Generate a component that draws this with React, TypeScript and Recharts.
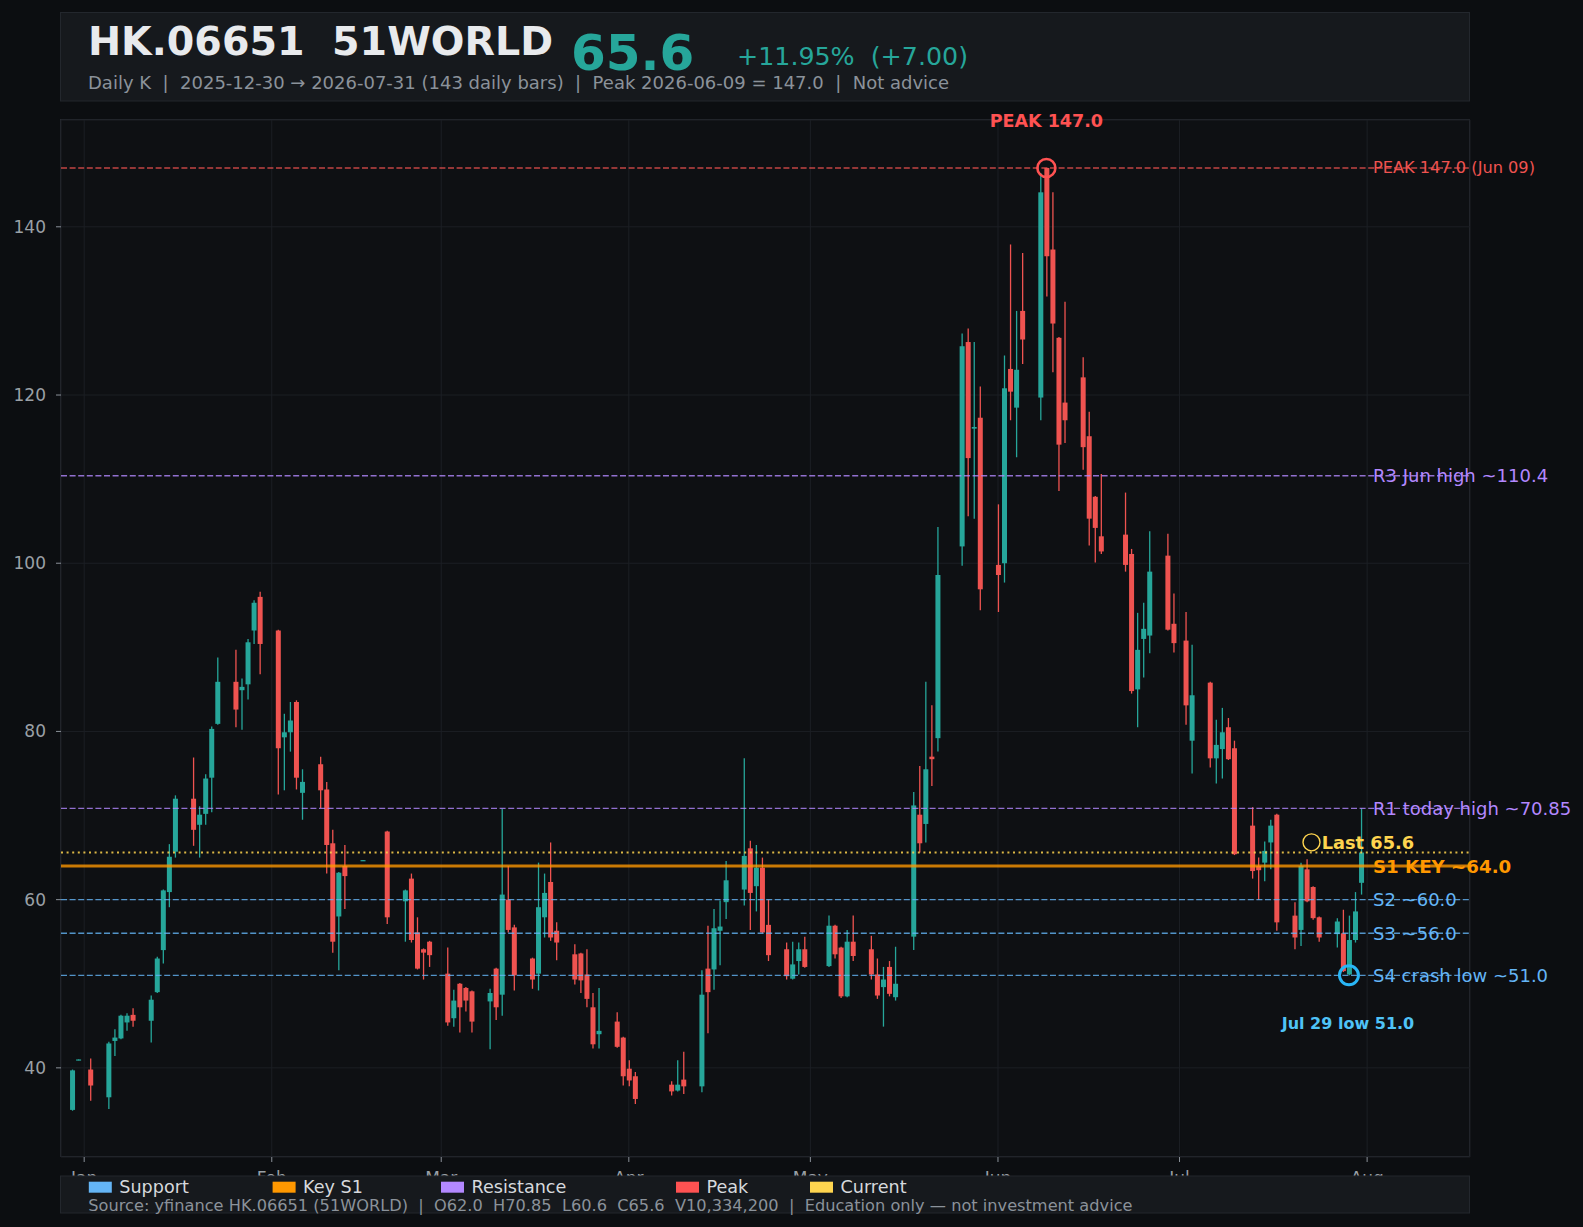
import React from 'react';
import {
  ComposedChart,
  Bar,
  XAxis,
  YAxis,
  CartesianGrid,
  ReferenceLine,
  ReferenceDot,
} from 'recharts';

// ---------- data ----------
const DATES = [
  '2025-12-30', '2025-12-31',
  '2026-01-02', '2026-01-05', '2026-01-06', '2026-01-07', '2026-01-08', '2026-01-09',
  '2026-01-12', '2026-01-13', '2026-01-14', '2026-01-15', '2026-01-16',
  '2026-01-19', '2026-01-20', '2026-01-21', '2026-01-22', '2026-01-23',
  '2026-01-26', '2026-01-27', '2026-01-28', '2026-01-29', '2026-01-30',
  '2026-02-02', '2026-02-03', '2026-02-04', '2026-02-05', '2026-02-06',
  '2026-02-09', '2026-02-10', '2026-02-11', '2026-02-12', '2026-02-13',
  '2026-02-16', '2026-02-20',
  '2026-02-23', '2026-02-24', '2026-02-25', '2026-02-26', '2026-02-27',
  '2026-03-02', '2026-03-03', '2026-03-04', '2026-03-05', '2026-03-06',
  '2026-03-09', '2026-03-10', '2026-03-11', '2026-03-12', '2026-03-13',
  '2026-03-16', '2026-03-17', '2026-03-18', '2026-03-19', '2026-03-20',
  '2026-03-23', '2026-03-24', '2026-03-25', '2026-03-26', '2026-03-27',
  '2026-03-30', '2026-03-31',
  '2026-04-01', '2026-04-02', '2026-04-08', '2026-04-09', '2026-04-10',
  '2026-04-13', '2026-04-14', '2026-04-15', '2026-04-16', '2026-04-17',
  '2026-04-20', '2026-04-21', '2026-04-22', '2026-04-23', '2026-04-24',
  '2026-04-27', '2026-04-28', '2026-04-29', '2026-04-30',
  '2026-05-04', '2026-05-05', '2026-05-06', '2026-05-07', '2026-05-08',
  '2026-05-11', '2026-05-12', '2026-05-13', '2026-05-14', '2026-05-15',
  '2026-05-18', '2026-05-19', '2026-05-20', '2026-05-21', '2026-05-22',
  '2026-05-26', '2026-05-27', '2026-05-28', '2026-05-29',
  '2026-06-01', '2026-06-02', '2026-06-03', '2026-06-04', '2026-06-05',
  '2026-06-08', '2026-06-09', '2026-06-10', '2026-06-11', '2026-06-12',
  '2026-06-15', '2026-06-16', '2026-06-17', '2026-06-18',
  '2026-06-22', '2026-06-23', '2026-06-24', '2026-06-25', '2026-06-26',
  '2026-06-29', '2026-06-30',
  '2026-07-02', '2026-07-03',
  '2026-07-06', '2026-07-07', '2026-07-08', '2026-07-09', '2026-07-10',
  '2026-07-13', '2026-07-14', '2026-07-15', '2026-07-16', '2026-07-17',
  '2026-07-20', '2026-07-21', '2026-07-22', '2026-07-23', '2026-07-24',
  '2026-07-27', '2026-07-28', '2026-07-29', '2026-07-30', '2026-07-31',
];

const OPEN = [
  35.0, 40.9,
  39.8, 36.5, 43.2, 43.5, 45.4, 46.3,
  45.6, 49.0, 54.0, 60.9, 65.7,
  72.0, 68.9, 70.2, 74.5, 80.9,
  85.9, 84.9, 85.6, 92.0, 96.0,
  92.0, 79.3, 79.9, 83.5, 72.7,
  76.1, 73.1, 66.7, 58.0, 64.0,
  64.6, 68.1,
  59.8, 62.5, 56.1, 54.1, 55.0,
  51.2, 45.9, 50.0, 49.5, 49.1,
  47.9, 51.8, 48.7, 60.0, 56.7,
  53.0, 51.2, 57.9, 62.1, 56.3,
  53.5, 53.6, 51.1, 47.2, 44.0,
  45.5, 43.6,
  39.9, 39.0, 38.0, 37.3, 38.6,
  37.8, 51.8, 51.7, 56.3, 59.7,
  61.2, 66.1, 61.6, 63.8, 57.0,
  54.1, 50.6, 52.7, 54.1,
  52.1, 56.9, 54.3, 48.5, 55.0,
  54.1, 51.1, 49.6, 52.0, 48.4,
  55.6, 70.1, 69.0, 77.0, 79.2,
  102.0, 126.3, 116.0, 117.3,
  99.8, 100.0, 123.1, 118.5, 130.0,
  119.7, 147.0, 137.3, 126.8, 119.1,
  122.1, 115.1, 107.9, 103.2,
  103.4, 101.1, 85.0, 91.0, 91.4,
  100.9, 92.8,
  90.8, 78.9,
  85.8, 76.8, 77.9, 80.5, 78.0,
  68.8, 64.0, 64.4, 66.8, 70.1,
  58.1, 56.4, 63.6, 61.5, 57.9,
  55.9, 56.0, 51.1, 55.2, 62.0,
];

const HIGH = [
  39.8, 41.0,
  41.1, 43.1, 44.6, 46.3, 46.5, 47.1,
  48.6, 53.2, 61.2, 66.6, 72.4,
  76.9, 71.1, 74.9, 80.6, 88.8,
  89.7, 86.3, 91.0, 95.6, 96.6,
  92.1, 82.1, 83.5, 83.7, 75.5,
  77.0, 74.0, 68.3, 63.3, 66.5,
  64.7, 68.2,
  61.2, 63.1, 57.9, 54.2, 55.1,
  54.3, 49.3, 50.1, 49.6, 49.2,
  49.4, 51.9, 70.8, 64.0, 57.0,
  53.1, 64.4, 63.1, 66.8, 57.3,
  54.7, 53.7, 54.1, 48.9, 49.5,
  46.6, 43.7,
  40.9, 39.5, 38.4, 40.9, 41.9,
  51.6, 56.9, 58.9, 59.9, 64.6,
  76.8, 67.0, 66.5, 65.0, 60.0,
  54.9, 55.0, 54.9, 55.6,
  58.1, 57.0, 54.4, 56.4, 58.1,
  55.7, 53.0, 52.0, 52.7, 54.4,
  72.8, 75.9, 85.9, 83.1, 104.3,
  127.3, 127.9, 126.3, 121.0,
  107.0, 124.7, 137.9, 130.0, 136.9,
  146.4, 147.0, 144.1, 126.9, 131.1,
  124.5, 118.0, 108.0, 110.6,
  108.4, 101.7, 94.1, 95.3, 103.8,
  103.5, 96.4,
  94.2, 90.3,
  85.9, 81.4, 82.8, 81.6, 78.9,
  71.0, 65.0, 66.9, 69.5, 70.2,
  59.7, 64.4, 64.8, 61.6, 58.0,
  57.8, 58.8, 58.1, 60.9, 70.85,
];

const LOW = [
  34.9, 40.9,
  36.1, 35.1, 41.4, 43.4, 44.4, 44.9,
  43.0, 48.9, 52.4, 59.1, 65.0,
  66.4, 65.0, 68.9, 70.4, 80.8,
  80.5, 80.2, 83.8, 90.4, 86.8,
  72.5, 73.0, 77.6, 73.1, 69.5,
  70.9, 63.1, 53.7, 51.6, 58.9,
  64.6, 57.1,
  55.0, 54.9, 51.7, 50.5, 52.0,
  45.0, 44.9, 44.2, 46.7, 44.2,
  42.2, 45.7, 46.2, 56.1, 49.2,
  49.4, 49.2, 55.5, 55.1, 52.8,
  49.9, 48.9, 47.2, 42.3, 42.3,
  42.4, 37.9,
  37.8, 35.7, 36.7, 37.2, 36.9,
  37.1, 44.1, 49.3, 52.2, 57.7,
  59.3, 56.4, 58.6, 56.0, 52.7,
  50.5, 50.5, 51.1, 51.9,
  52.0, 53.0, 48.3, 48.4, 52.7,
  50.5, 48.2, 44.9, 48.5, 48.0,
  54.0, 65.6, 66.8, 73.5, 77.6,
  99.7, 105.6, 105.3, 94.4,
  94.2, 97.7, 117.0, 112.6, 123.7,
  117.0, 131.7, 122.7, 108.6, 114.3,
  111.1, 102.1, 100.1, 101.1,
  99.0, 84.5, 80.5, 86.4, 89.3,
  92.0, 89.4,
  80.8, 75.0,
  75.7, 73.8, 74.4, 76.6, 65.3,
  62.5, 60.0, 62.2, 63.6, 56.3,
  54.1, 54.5, 59.7, 57.6, 55.0,
  54.3, 51.4, 51.0, 54.9, 60.6,
];

const CLOSE = [
  39.7, 41.0,
  37.9, 42.9, 43.6, 46.2, 46.2, 45.6,
  48.1, 53.0, 61.1, 65.1, 72.0,
  68.3, 70.1, 74.4, 80.3, 85.9,
  82.6, 85.3, 90.6, 95.3, 90.4,
  78.0, 79.9, 81.3, 74.5, 74.0,
  73.0, 66.5, 55.0, 63.2, 62.8,
  64.7, 57.9,
  61.1, 55.2, 51.8, 53.7, 53.4,
  45.4, 48.0, 47.2, 48.0, 45.5,
  48.9, 47.2, 60.6, 56.4, 51.0,
  50.5, 59.1, 60.8, 55.5, 54.9,
  50.5, 50.4, 48.2, 42.8, 44.4,
  42.5, 39.0,
  38.5, 36.3, 37.2, 38.0, 37.8,
  48.7, 49.0, 56.6, 56.8, 62.3,
  65.2, 60.8, 63.8, 56.1, 53.4,
  50.9, 52.3, 54.1, 52.0,
  56.9, 53.5, 48.5, 55.0, 53.3,
  51.1, 48.6, 50.5, 48.8, 50.0,
  71.2, 66.7, 75.5, 76.7, 98.6,
  125.8, 112.5, 116.2, 96.9,
  98.6, 120.8, 120.4, 123.0, 126.6,
  144.1, 136.5, 128.5, 114.1, 117.0,
  113.8, 105.3, 104.2, 101.4,
  99.8, 84.8, 89.7, 92.2, 99.0,
  92.1, 90.5,
  83.1, 84.3,
  76.8, 78.4, 79.9, 76.7, 65.4,
  63.4, 63.5, 65.8, 68.8, 57.3,
  55.5, 64.0, 59.8, 57.8, 55.5,
  57.4, 51.5, 55.2, 58.6, 65.6,
];

const MONTH_TICKS = [0, 31, 59, 90, 120, 151, 181, 212];
const MONTH_LABELS = ['Jan', 'Feb', 'Mar', 'Apr', 'May', 'Jun', 'Jul', 'Aug'];
const Y_TICKS = [40, 60, 80, 100, 120, 140];

const PEAK_DAY = '2026-06-09';
const PEAK_VALUE = 147.0;
const LOW_DAY = '2026-07-29';
const LOW_VALUE = 51.0;

const LEVELS = [
  { y: 147.0, text: 'PEAK 147.0 (Jun 09)', color: '#ef5350', dash: '6 2.6', width: 1.4, bold: false, size: 16.2 },
  { y: 110.4, text: 'R3 Jun high ~110.4', color: '#b388ff', dash: '6 2.6', width: 1.4, bold: false, size: 18 },
  { y: 70.85, text: 'R1 today high ~70.85', color: '#b388ff', dash: '6 2.6', width: 1.4, bold: false, size: 18 },
  { y: 64.0, text: 'S1 KEY ~64.0', color: '#ff9800', dash: undefined, width: 3, bold: true, size: 18.2 },
  { y: 60.0, text: 'S2 ~60.0', color: '#64b5f6', dash: '6 2.6', width: 1.4, bold: false, size: 18 },
  { y: 56.0, text: 'S3 ~56.0', color: '#64b5f6', dash: '6 2.6', width: 1.4, bold: false, size: 18 },
  { y: 51.0, text: 'S4 crash low ~51.0', color: '#64b5f6', dash: '6 2.6', width: 1.4, bold: false, size: 18 },
];
const LAST_PRICE = 65.6;

const LEGEND = [
  { label: 'Support', color: '#64b5f6', x: 88.8 },
  { label: 'Key S1', color: '#ff9800', x: 272.6 },
  { label: 'Resistance', color: '#b388ff', x: 441 },
  { label: 'Peak', color: '#ff5252', x: 676 },
  { label: 'Current', color: '#ffd54f', x: 810 },
];

// ---------- helpers ----------
const UP = '#26a69a';
const DOWN = '#ef5350';
const FONT = '"DejaVu Sans", Verdana, sans-serif';

const dayIndex = (s: string) =>
  (Date.UTC(+s.slice(0, 4), +s.slice(5, 7) - 1, +s.slice(8, 10)) - Date.UTC(2026, 0, 1)) / 86400000;

const data = DATES.map((d, i) => ({
  date: d,
  t: dayIndex(d),
  o: OPEN[i],
  h: HIGH[i],
  l: LOW[i],
  c: CLOSE[i],
  range: [LOW[i], HIGH[i]],
}));

function Candle(props: any) {
  const { x, y, width, height, payload } = props;
  if (!payload || x == null || y == null) return null;
  const { o, h, l, c } = payload;
  const top = Math.min(y, y + height);
  const hh = Math.abs(height);
  const cx = x + width / 2;
  const span = h - l;
  const py = (v: number) => (span > 0 ? top + ((h - v) / span) * hh : top);
  const color = c >= o ? UP : DOWN;
  const bt = py(Math.max(o, c));
  const bb = py(Math.min(o, c));
  const bh = Math.max(bb - bt, 1.2);
  return (
    <g>
      <line x1={cx} x2={cx} y1={top} y2={top + hh} stroke={color} strokeWidth={1.3} />
      <rect x={cx - 2.5} y={bt} width={5} height={bh} fill={color} />
    </g>
  );
}

const makeRightLabel = (lv: any) => (props: any) => {
  const vb = props.viewBox || {};
  return (
    <text
      x={vb.x + vb.width - 97}
      y={vb.y}
      dominantBaseline="central"
      fill={lv.color}
      fontSize={lv.size}
      fontWeight={lv.bold ? 'bold' : 'normal'}
      fontFamily={FONT}
    >
      {lv.text}
    </text>
  );
};

const lastLabel = (props: any) => {
  const vb = props.viewBox || {};
  const right = vb.x + vb.width;
  const yy = vb.y - 10.2;
  return (
    <g>
      <circle cx={right - 158.5} cy={yy} r={8.5} fill="none" stroke="#ffd54f" strokeWidth={1.4} />
      <text
        x={right - 148.3}
        y={yy}
        dominantBaseline="central"
        fill="#ffd54f"
        fontSize={17.8}
        fontWeight="bold"
        fontFamily={FONT}
      >
        {`Last ${LAST_PRICE.toFixed(1)}`}
      </text>
    </g>
  );
};

const peakLabel = (props: any) => {
  const vb = props.viewBox || {};
  const cx = vb.x + vb.width / 2;
  const cy = vb.y + vb.height / 2;
  return (
    <text x={cx} y={cy - 47} textAnchor="middle" dominantBaseline="central" fill="#ff5252" fontSize={17.5} fontWeight="bold" fontFamily={FONT}>
      {`PEAK ${PEAK_VALUE.toFixed(1)}`}
    </text>
  );
};

const lowLabel = (props: any) => {
  const vb = props.viewBox || {};
  const cx = vb.x + vb.width / 2;
  const cy = vb.y + vb.height / 2;
  return (
    <text x={cx - 1} y={cy + 48} textAnchor="middle" dominantBaseline="central" fill="#4fc3f7" fontSize={16} fontWeight="bold" fontFamily={FONT}>
      {`Jul 29 low ${LOW_VALUE.toFixed(1)}`}
    </text>
  );
};

const W = 1583;
const H = 1227;
const PLOT = { left: 61, top: 120, right: 1470, bottom: 1157 };

export default function App() {
  return (
    <div
      style={{
        position: 'absolute',
        left: 0,
        top: 0,
        width: W,
        height: H,
        background: '#0c0e11',
        overflow: 'hidden',
        fontFamily: FONT,
      }}
    >
      {/* plot area background + frame */}
      <div
        style={{
          position: 'absolute',
          left: PLOT.left - 1,
          top: PLOT.top - 1,
          width: PLOT.right - PLOT.left + 1,
          height: PLOT.bottom - PLOT.top + 1,
          background: '#0e1013',
          border: '1px solid #272a30',
          boxSizing: 'border-box',
        }}
      />
      <div style={{ position: 'absolute', left: 0, top: 0 }}>
        <ComposedChart
          width={W}
          height={H}
          data={data}
          margin={{ top: PLOT.top, right: W - PLOT.right, bottom: 0, left: 0 }}
        >
          <CartesianGrid stroke="#1c1f24" strokeWidth={1} />
          <XAxis
            type="number"
            dataKey="t"
            domain={[-3.83, 229]}
            allowDataOverflow
            ticks={MONTH_TICKS}
            tickFormatter={(v: number) => MONTH_LABELS[MONTH_TICKS.indexOf(v)] ?? ''}
            height={H - PLOT.bottom}
            tickSize={5}
            tickMargin={10}
            axisLine={false}
            tickLine={{ stroke: '#8b9199' }}
            tick={{ fill: '#9aa0a6', fontSize: 17, fontFamily: FONT }}
          />
          <YAxis
            type="number"
            domain={[29.4, 152.7]}
            allowDataOverflow
            ticks={Y_TICKS}
            width={PLOT.left}
            tickSize={5}
            tickMargin={10}
            axisLine={false}
            tickLine={{ stroke: '#8b9199' }}
            tick={{ fill: '#9aa0a6', fontSize: 17, fontFamily: FONT }}
          />
          <Bar dataKey="range" barSize={5} shape={(p: any) => <Candle {...p} />} isAnimationActive={false} />
          {LEVELS.map((lv) => (
            <ReferenceLine
              key={lv.text}
              y={lv.y}
              stroke={lv.color}
              strokeOpacity={lv.bold ? 0.78 : 0.8}
              strokeWidth={lv.width}
              strokeDasharray={lv.dash}
              label={makeRightLabel(lv)}
            />
          ))}
          <ReferenceLine
            y={LAST_PRICE}
            stroke="#ffd54f"
            strokeOpacity={0.85}
            strokeWidth={2}
            strokeDasharray="2 3.6"
            label={lastLabel}
          />
          <ReferenceDot
            x={dayIndex(PEAK_DAY)}
            y={PEAK_VALUE}
            r={9}
            fill="none"
            stroke="#ff5252"
            strokeWidth={2.6}
            label={peakLabel}
          />
          <ReferenceDot
            x={dayIndex(LOW_DAY)}
            y={LOW_VALUE}
            r={9.5}
            fill="none"
            stroke="#29b6f6"
            strokeWidth={3}
            label={lowLabel}
          />
        </ComposedChart>
      </div>

      {/* header and footer overlay */}
      <svg width={W} height={H} style={{ position: 'absolute', left: 0, top: 0, pointerEvents: 'none' }}>
        <rect x={60.5} y={12.5} width={1409} height={88.5} fill="#16191d" stroke="#23272d" strokeWidth={1} />
        <text x={88} y={55} fontSize={39.6} fontWeight="bold" fill="#e8eaed" fontFamily={FONT} style={{ whiteSpace: 'pre' }}>
          {'HK.06651  51WORLD'}
        </text>
        <text x={571} y={70} fontSize={50} fontWeight="bold" fill={UP} fontFamily={FONT}>
          65.6
        </text>
        <text x={737} y={65} fontSize={25.3} fill={UP} fontFamily={FONT} style={{ whiteSpace: 'pre' }}>
          {'+11.95%  (+7.00)'}
        </text>
        <text x={88} y={89} fontSize={18} fill="#8b929a" fontFamily={FONT} style={{ whiteSpace: 'pre' }}>
          {'Daily K  |  2025-12-30 \u2192 2026-07-31 (143 daily bars)  |  Peak 2026-06-09 = 147.0  |  Not advice'}
        </text>

        <rect x={60.5} y={1176} width={1409} height={37} fill="#16191d" stroke="#23272d" strokeWidth={1} />
        {LEGEND.map((it) => (
          <g key={it.label}>
            <rect x={it.x} y={1181.7} width={23} height={11} fill={it.color} />
            <text x={it.x + 30.5} y={1193.3} fontSize={17.6} fill="#d6d9dd" fontFamily={FONT}>
              {it.label}
            </text>
          </g>
        ))}
        <text x={88.3} y={1210.5} fontSize={16.2} fill="#8b929a" fontFamily={FONT} style={{ whiteSpace: 'pre' }}>
          {'Source: yfinance HK.06651 (51WORLD)  |  O62.0  H70.85  L60.6  C65.6  V10,334,200  |  Education only \u2014 not investment advice'}
        </text>
      </svg>
    </div>
  );
}
